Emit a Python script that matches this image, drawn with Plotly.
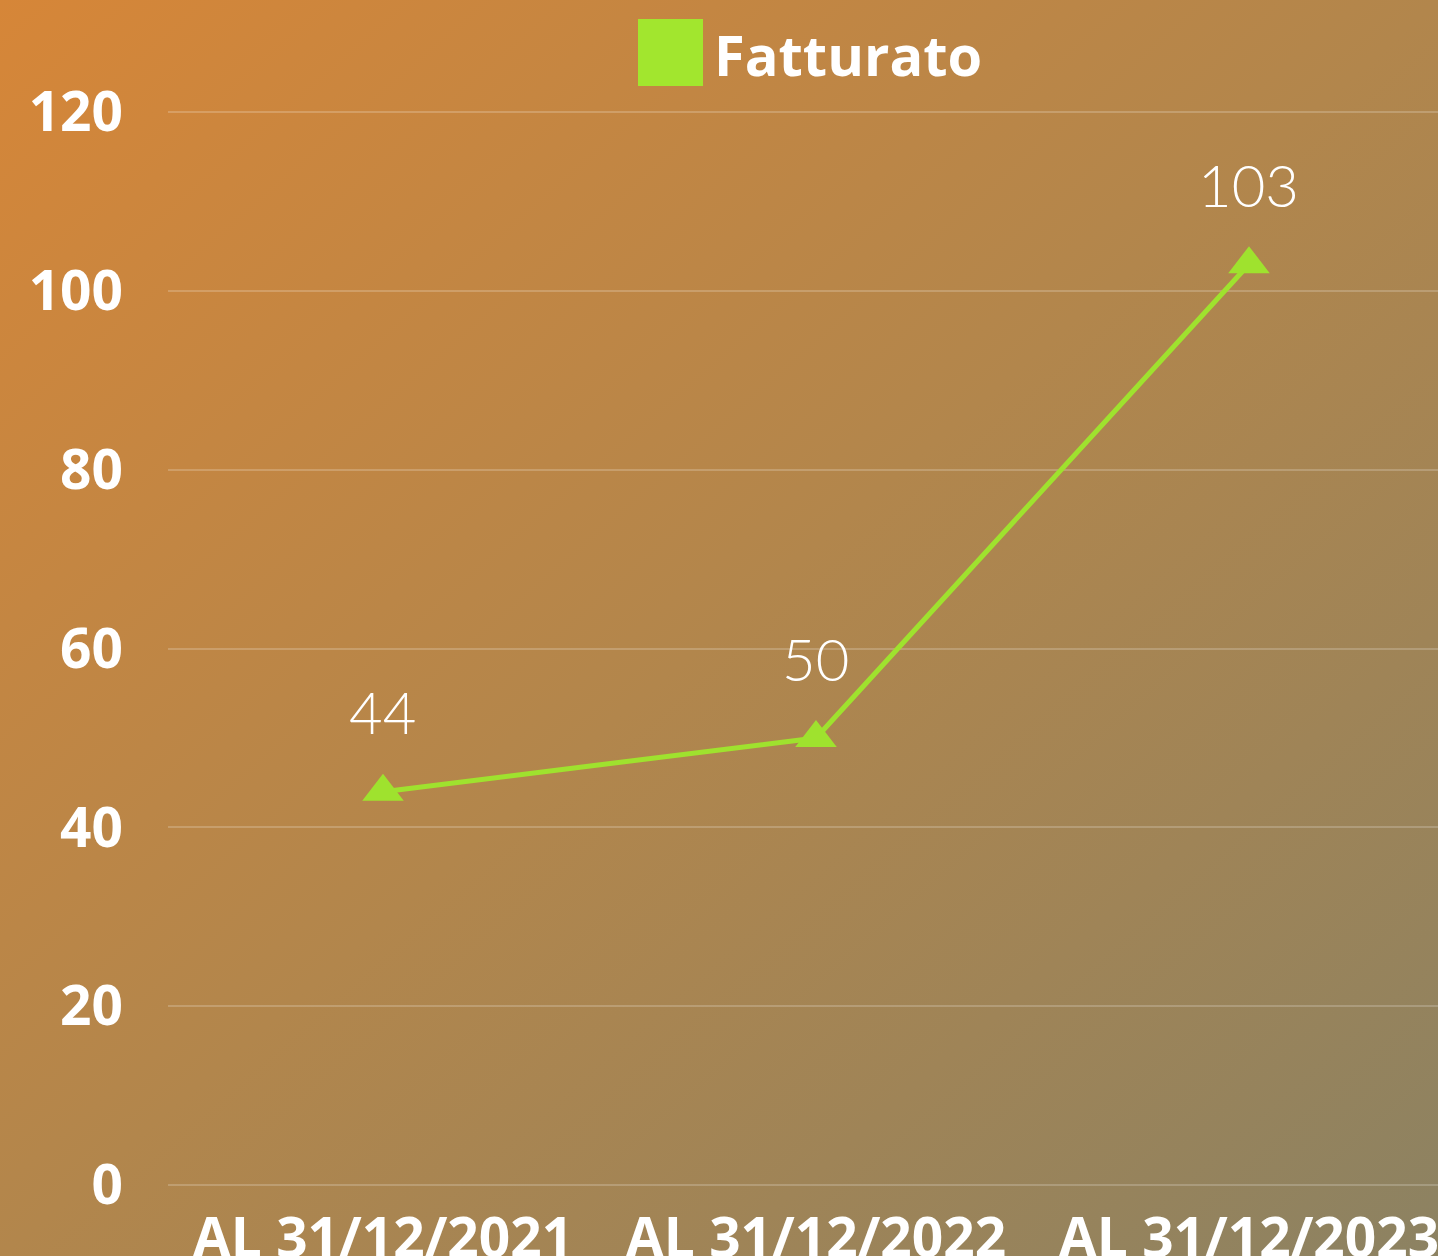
import base64
import plotly.graph_objects as go

categories = ["AL 31/12/2021", "AL 31/12/2022", "AL 31/12/2023"]
fatturato = [44, 50, 103]
y_ticks = [0, 20, 40, 60, 80, 100, 120]
series_name = "Fatturato"

W, H = 1438, 1256
ML, MR, MT, MB = 168, 0, 110, 71
pw, ph = W - ML - MR, H - MT - MB
Y_MAX = 120.25

green = "#9FE22E"

svg = (
    '<svg xmlns="http://www.w3.org/2000/svg" width="1438" height="1256" viewBox="0 0 1438 1256" preserveAspectRatio="none">'
    '<defs><linearGradient id="g" x1="0" y1="0" x2="1" y2="1">'
    '<stop offset="0" stop-color="rgb(214,134,56)"/>'
    '<stop offset="0.5" stop-color="rgb(178,134,76)"/>'
    '<stop offset="1" stop-color="rgb(140,130,98)"/>'
    '</linearGradient></defs>'
    '<rect width="1438" height="1256" fill="url(#g)"/></svg>'
)
src = "data:image/svg+xml;base64," + base64.b64encode(svg.encode()).decode()

fig = go.Figure()
fig.add_trace(go.Scatter(
    x=categories, y=fatturato, mode="lines+markers", name=series_name,
    line=dict(color=green, width=5),
    marker=dict(symbol="triangle-up", size=36, color=green),
    cliponaxis=False, showlegend=False,
))

for c, v in zip(categories, fatturato):
    fig.add_annotation(x=c, y=v, text=str(v), showarrow=False, yshift=80,
                       yanchor="middle",
                       font=dict(family="Lato", size=58, color="white", weight=300))

# legend drawn manually
fig.add_shape(type="rect", xref="paper", yref="paper",
              x0=(638 - ML) / pw, x1=(703 - ML) / pw,
              y0=1 + (MT - 86) / ph, y1=1 + (MT - 19) / ph,
              fillcolor="#A2E62E", line=dict(width=0))
fig.add_annotation(xref="paper", yref="paper", x=(712 - ML) / pw, y=1 + (MT - 54) / ph,
                   xanchor="left", yanchor="middle", showarrow=False, text=series_name,
                   font=dict(family="Open Sans", size=56, color="white", weight=700))

fig.update_layout(
    width=W, height=H,
    margin=dict(l=ML, r=MR, t=MT, b=MB, autoexpand=False),
    paper_bgcolor="rgb(178,134,76)",
    plot_bgcolor="rgba(0,0,0,0)",
    showlegend=False,
    images=[dict(source=src, xref="paper", yref="paper",
                 x=-ML / pw, y=1 + MT / ph, sizex=W / pw, sizey=H / ph,
                 xanchor="left", yanchor="top", sizing="stretch", layer="below")],
)
fig.update_xaxes(
    range=[-0.4965, 2.4365], showgrid=False, zeroline=False, showline=False,
    automargin=False,
    tickfont=dict(family="Open Sans", size=55, color="white", weight=700),
    ticklabelstandoff=16,
)
fig.update_yaxes(
    range=[0, Y_MAX], tickvals=y_ticks, showgrid=True, automargin=False,
    gridcolor="rgba(255,255,255,0.2)", gridwidth=2,
    zeroline=True, zerolinecolor="rgba(255,255,255,0.2)", zerolinewidth=2,
    showline=False,
    tickfont=dict(family="Open Sans", size=55, color="white", weight=700),
    ticklabelstandoff=44,
)

fig.write_html("out.html", config={"displayModeBar": False},
               post_script="document.body.style.margin='0';document.body.style.overflow='hidden';")
